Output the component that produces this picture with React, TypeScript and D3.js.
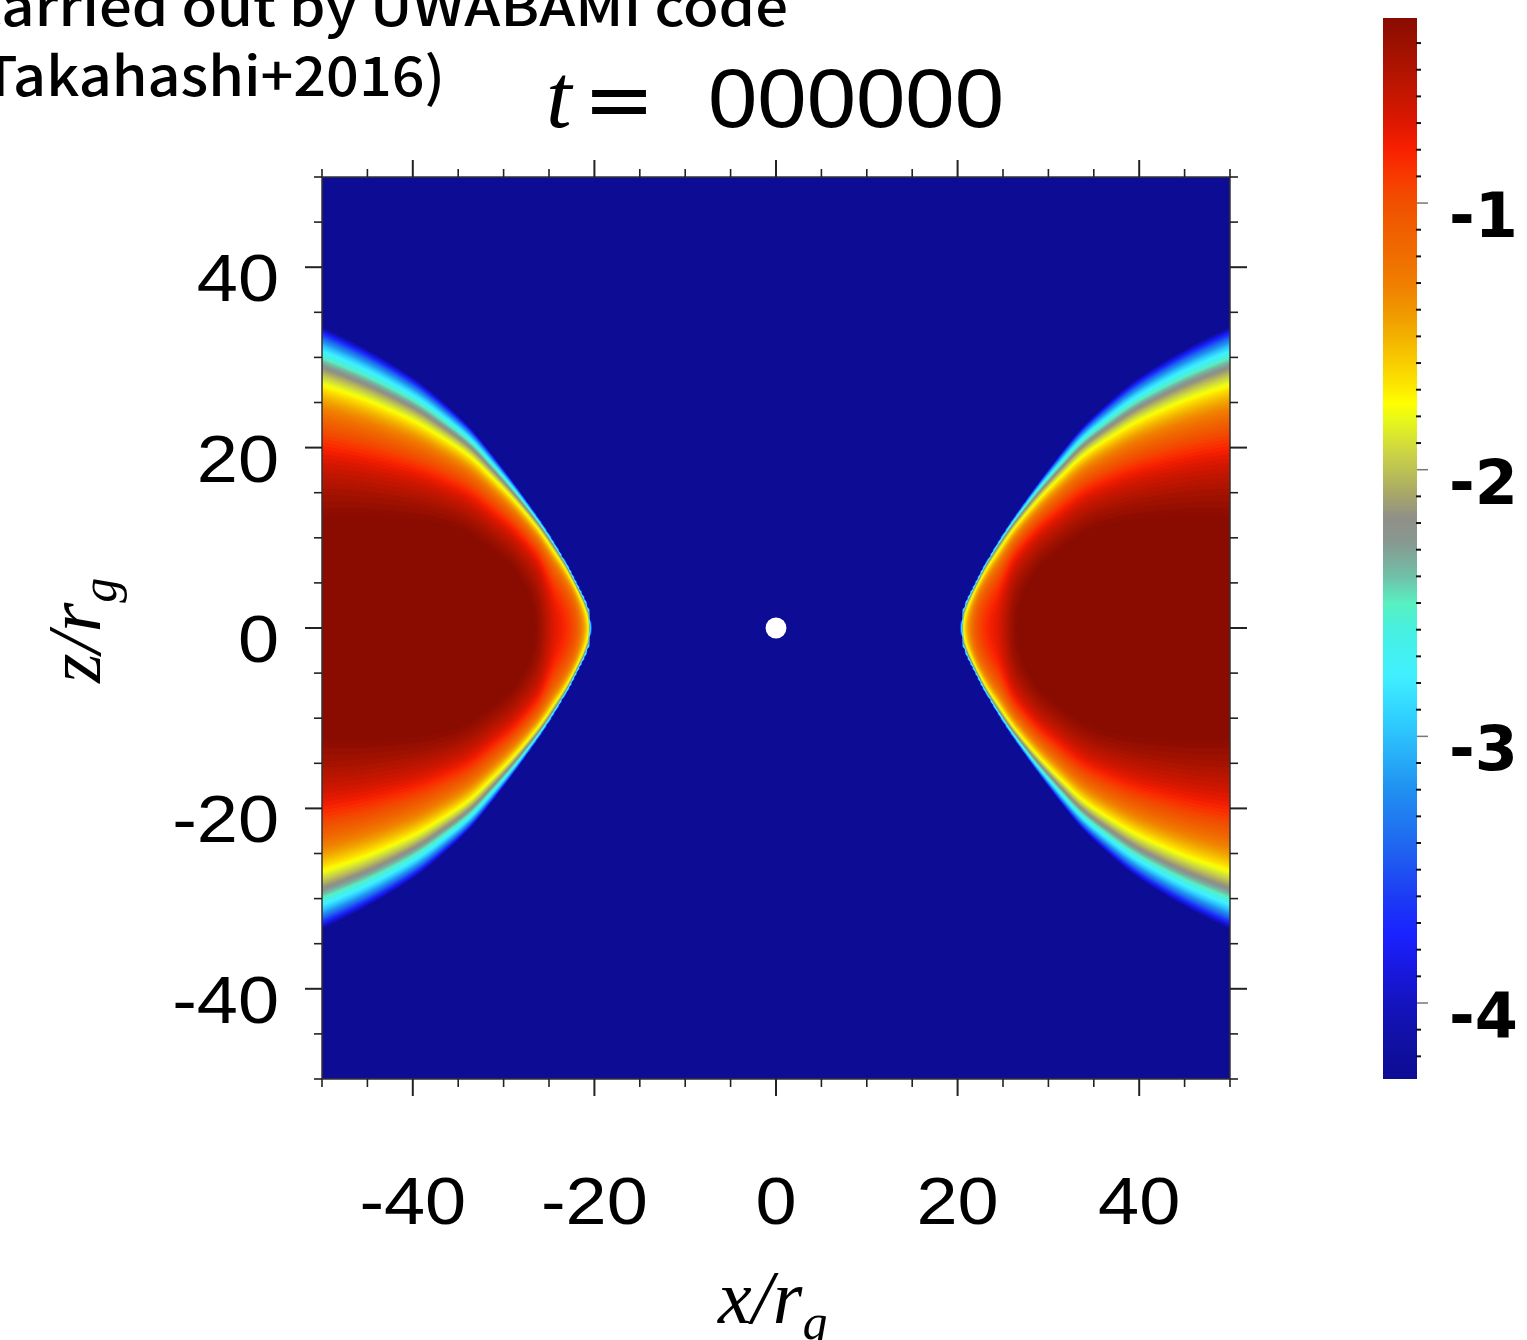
import React, { useMemo } from "react";
import * as d3 from "d3";

const W = 1527;
const H = 1340;

// colour map of log10(density) (value -> colour)
const cmapValues = [-4.29, -4.14, -4.0, -3.87, -3.74, -3.6, -3.4, -3.2, -3.07, -2.93, -2.77, -2.6, -2.5, -2.4, -2.27, -2.18, -2.09, -1.95, -1.81, -1.75, -1.69, -1.58, -1.44, -1.31, -1.18, -1.0, -0.91, -0.8, -0.71, -0.5, -0.31];
const cmapColors = ["#0c0c94", "#1010a4", "#1414c0", "#1818e0", "#1a22ff", "#1c3cf4", "#2068f0", "#2090f0", "#28b0f8", "#30d0ff", "#40f0ff", "#48f0e0", "#58f0c0", "#70c0a8", "#889890", "#909088", "#a8a868", "#c8d048", "#e8f818", "#ffff00", "#fce800", "#f8c800", "#f0a000", "#f08000", "#f06a00", "#f05000", "#f83c00", "#f82000", "#e01800", "#b01400", "#8a0c00"];

// axis ticks
const majorTicks = [-40, -20, 0, 20, 40];
const minorTicks = d3.range(-50, 51, 5);
const cbarMajor = [-1, -2, -3, -4];
const cbarMinor = d3.range(-4.2, -0.35, 0.1).map((v) => Math.round(v * 10) / 10).filter((v) => Math.abs(v - Math.round(v)) > 0.01);

// torus: surface half-thickness (where log rho hits the floor)
const surfR = [20.3, 20.6, 21.1, 22.0, 22.7, 24.0, 25.4, 27.3, 29.3, 31.5, 33.7, 36.5, 39.2, 42.5, 45.8, 50];
const surfZ = [0, 2.0, 3.3, 5.1, 6.5, 8.8, 11.1, 13.9, 16.7, 19.6, 22.3, 25.0, 27.3, 29.5, 31.4, 33.5];
// mid-plane log10 density
const midR = [20.3, 20.45, 20.6, 21.0, 21.4, 22.2, 23.3, 24.4, 26.6, 30, 36, 43, 50];
const midLog = [-4.3, -2.8, -1.85, -1.5, -1.3, -1.0, -0.82, -0.7, -0.3, -0.05, 0.08, 0.02, -0.05];
// vertical profile steepness
const profR = [20.3, 22, 23.6, 27, 32, 39, 50];
const profK = [1.2, 1.35, 1.5, 2.3, 3.4, 4.4, 4.7];
const FLOOR = -4.3;

const creditLines = ["carried out by UWABAMI code", "(Takahashi+2016)"];
const timeLabel = "000000";

// monotone cubic (Fritsch–Carlson) lookup through the read points
function monotone(xs: number[], ys: number[]) {
  const n = xs.length;
  const h: number[] = [], d: number[] = [], m: number[] = new Array(n).fill(0);
  for (let i = 0; i < n - 1; i++) {
    h[i] = xs[i + 1] - xs[i];
    d[i] = (ys[i + 1] - ys[i]) / h[i];
  }
  m[0] = d[0];
  m[n - 1] = d[n - 2];
  for (let i = 1; i < n - 1; i++) {
    if (d[i - 1] * d[i] <= 0) m[i] = 0;
    else {
      const w1 = 2 * h[i] + h[i - 1], w2 = h[i] + 2 * h[i - 1];
      m[i] = (w1 + w2) / (w1 / d[i - 1] + w2 / d[i]);
    }
  }
  return (x: number) => {
    if (x <= xs[0]) return ys[0];
    if (x >= xs[n - 1]) return ys[n - 1];
    const i = Math.max(0, Math.min(n - 2, d3.bisectRight(xs, x) - 1));
    const t = (x - xs[i]) / h[i];
    const t2 = t * t, t3 = t2 * t;
    return (2 * t3 - 3 * t2 + 1) * ys[i] + (t3 - 2 * t2 + t) * h[i] * m[i] + (-2 * t3 + 3 * t2) * ys[i + 1] + (t3 - t2) * h[i] * m[i + 1];
  };
}

export default function App() {
  const plot = { left: 322, right: 1230, top: 177, bottom: 1079 };
  const x = d3.scaleLinear().domain([-50, 50]).range([plot.left, plot.right]);
  const y = d3.scaleLinear().domain([-50, 50]).range([plot.bottom, plot.top]);
  const cbar = { left: 1383, right: 1417, top: 18, bottom: 1079 };
  const cy = d3.scaleLinear().domain([-4.285, -0.306]).range([cbar.bottom, cbar.top]);
  const color = d3.scaleLinear<string>().domain(cmapValues).range(cmapColors).interpolate(d3.interpolateRgb).clamp(true);

  const N = 360;
  const bands = useMemo(() => {
    const surf = monotone(surfR, surfZ);
    const mid = monotone(midR, midLog);
    const kk = monotone(profR, profK);
    const values = new Array(N * N);
    const step = 100 / N;
    for (let i = 0; i < N; i++) {
      const xv = -50 + (i + 0.5) * step;
      const R = Math.abs(xv);
      let m = FLOOR - 1, k = 1, Zeff = 0;
      if (R > surfR[0]) {
        const Z = surf(R);
        m = mid(R);
        k = kk(R);
        if (m > FLOOR) Zeff = Z / Math.sqrt(1 - Math.pow(10, (FLOOR - m) / k));
      }
      for (let j = 0; j < N; j++) {
        const zv = 50 - (j + 0.5) * step;
        let v = FLOOR - 0.5;
        if (Zeff > 0) {
          const u = zv / Zeff;
          if (Math.abs(u) < 1) v = Math.max(v, m + k * Math.log10(1 - u * u));
        }
        values[j * N + i] = v;
      }
    }
    const thresholds = d3.range(-4.27, -0.3, 0.04);
    return d3.contours().size([N, N]).thresholds(thresholds)(values);
  }, []);
  const path = d3.geoPath();

  const sx = (plot.right - plot.left) / N;
  const sy = (plot.bottom - plot.top) / N;
  const tickColor = "#222";
  const sansFont = "'Liberation Sans', Arial, sans-serif";
  const serifFont = "'Liberation Serif', 'Times New Roman', serif";

  return (
    <svg width={W} height={H} viewBox={`0 0 ${W} ${H}`} style={{ position: "absolute", left: 0, top: 0, display: "block", background: "#fff" }}>
      <defs>
        <clipPath id="plotClip">
          <rect x={plot.left} y={plot.top} width={plot.right - plot.left} height={plot.bottom - plot.top} />
        </clipPath>
        <linearGradient id="cbarGrad" x1="0" y1="1" x2="0" y2="0">
          {cmapValues.map((v, i) => (
            <stop key={i} offset={Math.max(0, Math.min(1, (v - cy.domain()[0]) / (cy.domain()[1] - cy.domain()[0])))} stopColor={cmapColors[i]} />
          ))}
        </linearGradient>
      </defs>
      <rect x={0} y={0} width={W} height={H} fill="#fff" />

      {/* credit text, cut off on the left as in the source frame */}
      <text x={788} y={26} textAnchor="end" fontFamily="'Noto Sans CJK JP', 'Noto Sans', sans-serif" fontWeight={500} fontSize={52} textLength={816} lengthAdjust="spacingAndGlyphs" fill="#000">{creditLines[0]}</text>
      <text x={445} y={96} textAnchor="end" fontFamily="'Noto Sans CJK JP', 'Noto Sans', sans-serif" fontWeight={500} fontSize={54} textLength={483} lengthAdjust="spacingAndGlyphs" fill="#000">{creditLines[1]}</text>

      {/* title */}
      <text x={546} y={127} fontFamily={serifFont} fontStyle="italic" fontSize={92} fill="#000">t</text>
      <text x={583} y={129} fontFamily="'DejaVu Sans', sans-serif" fontSize={86} fill="#000">=</text>
      <text x={708} y={127} fontFamily={sansFont} fontSize={84} textLength={296} lengthAdjust="spacingAndGlyphs" fill="#000">{timeLabel}</text>

      {/* density map */}
      <g clipPath="url(#plotClip)">
        <rect x={plot.left} y={plot.top} width={plot.right - plot.left} height={plot.bottom - plot.top} fill={color(FLOOR)} />
        <g transform={`translate(${plot.left},${plot.top}) scale(${sx},${sy})`}>
          {bands.map((b, i) => (
            <path key={i} d={path(b as any) || ""} fill={color(b.value + 0.02)} stroke="none" />
          ))}
        </g>
        <circle cx={x(0)} cy={y(0)} r={x(1.15) - x(0)} fill="#fff" />
      </g>

      {/* frame */}
      <rect x={plot.left} y={plot.top} width={plot.right - plot.left} height={plot.bottom - plot.top} fill="none" stroke="#333" strokeWidth={1.5} />

      {/* ticks */}
      {minorTicks.map((t) => {
        const major = majorTicks.includes(t);
        const len = major ? 17 : 8;
        const sw = major ? 2 : 1.6;
        return (
          <g key={t} stroke={tickColor} strokeWidth={sw}>
            <line x1={x(t)} x2={x(t)} y1={plot.bottom} y2={plot.bottom + len} />
            <line x1={x(t)} x2={x(t)} y1={plot.top} y2={plot.top - len} />
            <line x1={plot.left} x2={plot.left - len} y1={y(t)} y2={y(t)} />
            <line x1={plot.right} x2={plot.right + len} y1={y(t)} y2={y(t)} />
          </g>
        );
      })}

      {/* tick labels */}
      {majorTicks.map((t) => (
        <g key={"xl" + t} transform={`translate(${x(t)},1224) scale(1.12,1)`}>
          <text textAnchor="middle" fontFamily={sansFont} fontSize={66} fill="#000">{t}</text>
        </g>
      ))}
      {majorTicks.map((t) => (
        <g key={"yl" + t} transform={`translate(279,${y(t) + 34}) scale(1.12,1)`}>
          <text textAnchor="end" fontFamily={sansFont} fontSize={66} fill="#000">{t}</text>
        </g>
      ))}

      {/* axis titles */}
      <text x={718} y={1323} fontFamily={serifFont} fontStyle="italic" fontSize={76} fill="#000">
        x/r<tspan fontSize={50} dy={16}>g</tspan>
      </text>
      <g transform={`translate(100,${y(0) + 55}) rotate(-90)`}>
        <text x={0} y={0} fontFamily={serifFont} fontStyle="italic" fontSize={76} fill="#000">
          z/r<tspan fontSize={50} dy={16}>g</tspan>
        </text>
      </g>

      {/* colour bar */}
      <rect x={cbar.left} y={cbar.top} width={cbar.right - cbar.left} height={cbar.bottom - cbar.top} fill="url(#cbarGrad)" />
      {cbarMinor.map((v) => (
        <line key={"cm" + v} x1={cbar.right - 1} x2={cbar.right + 4} y1={cy(v)} y2={cy(v)} stroke="#111" strokeWidth={2} />
      ))}
      {cbarMajor.map((v) => (
        <g key={"cM" + v}>
          <line x1={cbar.right} x2={cbar.right + 11} y1={cy(v)} y2={cy(v)} stroke="#777" strokeWidth={1.5} />
          <text x={1449} y={cy(v) + 34} fontFamily="'DejaVu Sans', sans-serif" fontWeight={700} fontSize={62} fill="#000">{String(v)}</text>
        </g>
      ))}
    </svg>
  );
}
